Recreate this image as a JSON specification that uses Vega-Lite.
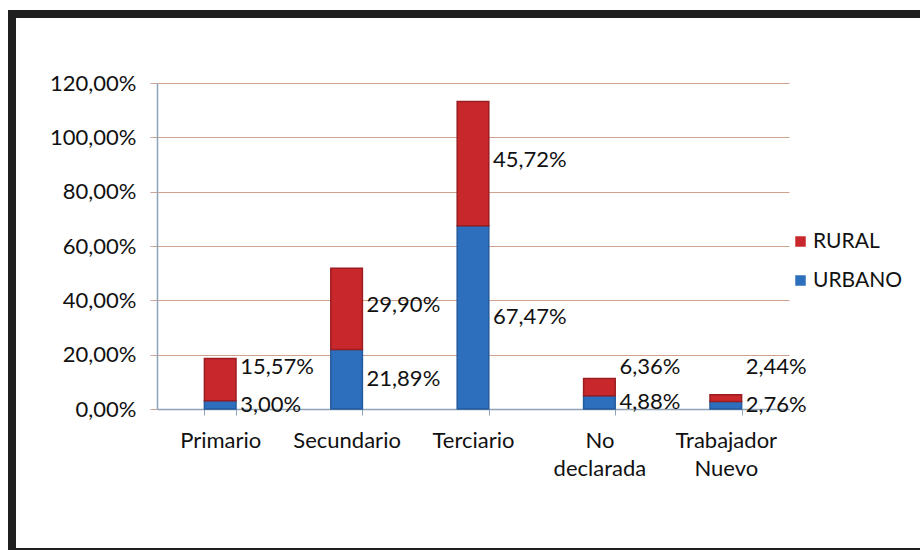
{
  "$schema": "https://vega.github.io/schema/vega-lite/v6.json",
  "width": 915,
  "height": 538,
  "autosize": {"type": "none"},
  "padding": {"left": 12, "top": 14, "right": 0, "bottom": 0},
  "background": "white",
  "config": {
    "font": "Lato",
    "view": {"stroke": "#1f1f1f", "strokeWidth": 8, "fill": "white"}
  },
  "data": {
    "values": [
      {"sector": "Primario", "serie": "URBANO", "valor": 3.00},
      {"sector": "Primario", "serie": "RURAL", "valor": 15.57},
      {"sector": "Secundario", "serie": "URBANO", "valor": 21.89},
      {"sector": "Secundario", "serie": "RURAL", "valor": 29.90},
      {"sector": "Terciario", "serie": "URBANO", "valor": 67.47},
      {"sector": "Terciario", "serie": "RURAL", "valor": 45.72},
      {"sector": "No declarada", "serie": "URBANO", "valor": 4.88},
      {"sector": "No declarada", "serie": "RURAL", "valor": 6.36},
      {"sector": "Trabajador Nuevo", "serie": "URBANO", "valor": 2.76},
      {"sector": "Trabajador Nuevo", "serie": "RURAL", "valor": 2.44}
    ]
  },
  "transform": [
    {"stack": "valor", "groupby": ["sector"], "sort": [{"field": "serie", "order": "descending"}], "as": ["v0", "v1"]},
    {"calculate": "(datum.v0 + datum.v1) / 2", "as": "vmid"},
    {"calculate": "datum.serie == 'RURAL' ? max(datum.vmid, 14) : datum.vmid", "as": "vlabel"},
    {"calculate": "replace(format(datum.valor, '.2f'), '.', ',') + '%'", "as": "etiqueta"}
  ],
  "encoding": {
    "x": {
      "field": "sector",
      "type": "nominal",
      "sort": ["Primario", "Secundario", "Terciario", "No declarada", "Trabajador Nuevo"],
      "scale": {"range": [145, 777], "paddingInner": 0.75, "paddingOuter": 0.375},
      "axis": {
        "title": null,
        "offset": -143,
        "labelAngle": 0,
        "labelFontSize": 22,
        "labelColor": "#111111",
        "labelPadding": 15,
        "labelLineHeight": 28,
        "labelExpr": "split(datum.label, ' ')",
        "domainColor": "#8fa3b8",
        "domainWidth": 1.5,
        "tickColor": "#8fa3b8",
        "tickSize": 6,
        "tickBand": "extent",
        "grid": false
      }
    }
  },
  "layer": [
    {
      "mark": {"type": "bar", "strokeWidth": 1.5},
      "encoding": {
        "y": {
          "field": "v1",
          "type": "quantitative",
          "scale": {"domain": [0, 120], "range": [395, 69], "nice": false},
          "axis": {
            "title": null,
            "offset": -145,
            "values": [0, 20, 40, 60, 80, 100, 120],
            "labelExpr": "replace(format(datum.value, '.2f'), '.', ',') + '%'",
            "labelFontSize": 22,
            "labelColor": "#111111",
            "labelPadding": 14,
            "tickSize": 7,
            "tickColor": "#c9a592",
            "domainColor": "#8fa3b8",
            "domainWidth": 1.5,
            "grid": true,
            "gridColor": "#cfa28e",
            "gridWidth": 1.2
          }
        },
        "y2": {"field": "v0"},
        "color": {
          "field": "serie",
          "type": "nominal",
          "scale": {"domain": ["RURAL", "URBANO"], "range": ["#c8282c", "#2e6fbd"]},
          "legend": {
            "title": null,
            "orient": "none",
            "legendX": 778,
            "legendY": 217,
            "padding": 0,
            "symbolType": "square",
            "symbolSize": 110,
            "symbolStrokeWidth": 0,
            "labelFontSize": 21,
            "labelColor": "#111111",
            "labelOffset": 2,
            "rowPadding": 17
          }
        },
        "stroke": {
          "field": "serie",
          "type": "nominal",
          "scale": {"domain": ["RURAL", "URBANO"], "range": ["#9c1d21", "#245a9c"]},
          "legend": null
        }
      }
    },
    {
      "transform": [{"filter": "datum.serie == 'URBANO'"}],
      "mark": {"type": "text", "align": "left", "baseline": "middle", "dx": 20, "dy": 0, "fontSize": 22, "color": "#111111"},
      "encoding": {
        "y": {"field": "vlabel", "type": "quantitative"},
        "text": {"field": "etiqueta"}
      }
    },
    {
      "transform": [{"filter": "datum.serie == 'RURAL'"}],
      "mark": {"type": "text", "align": "left", "baseline": "middle", "dx": 20, "dy": -4, "fontSize": 22, "color": "#111111"},
      "encoding": {
        "y": {"field": "vlabel", "type": "quantitative"},
        "text": {"field": "etiqueta"}
      }
    }
  ]
}
